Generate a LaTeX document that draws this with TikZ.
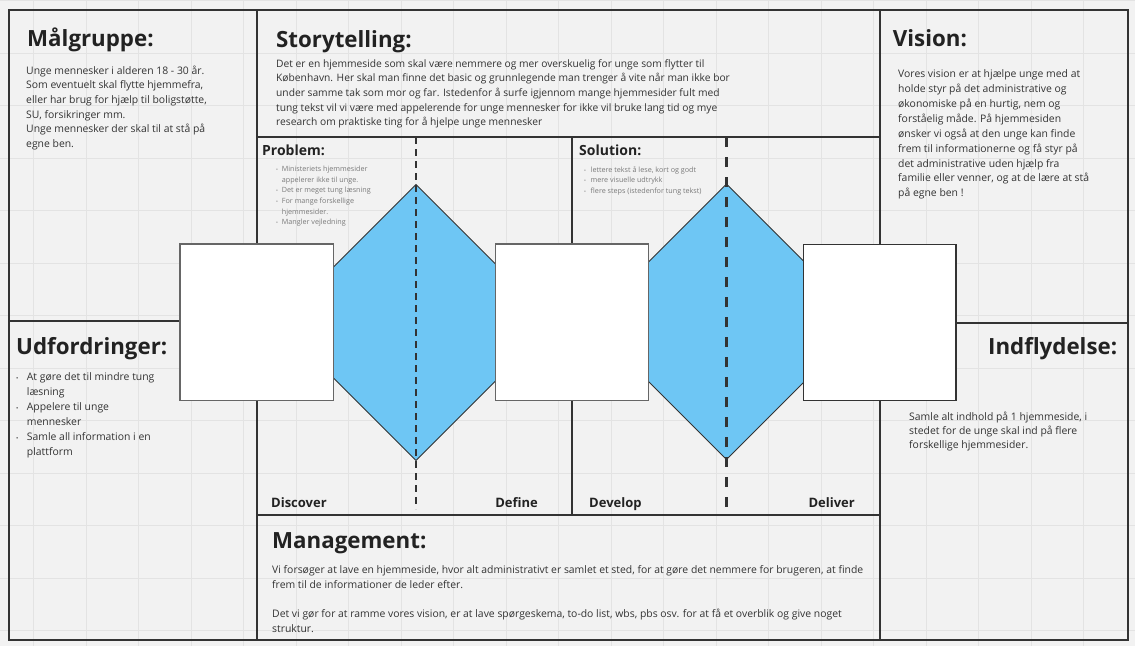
\documentclass[tikz,border=0pt]{standalone}
\usepackage{fontspec}
\setmainfont{Open Sans}

\definecolor{canvas}{HTML}{F2F2F2}
\definecolor{gridline}{HTML}{E3E3E3}
\definecolor{frame}{HTML}{333333}
\definecolor{hexblue}{HTML}{6EC6F4}
\definecolor{ink}{HTML}{222222}
\definecolor{bodyink}{HTML}{333333}
\definecolor{softink}{HTML}{7A7A7A}

% bullet of a given size in a box of a given width
\newcommand{\dotmark}[2]{\makebox[#2][l]{\fontsize{#1}{#1}\selectfont •}}

\tikzset{
  panel/.style={draw=frame, line width=2pt},
  hexa/.style={fill=hexblue, draw=frame, line width=0.9pt, line join=miter},
  card/.style={fill=white, draw=black!60, line width=1.3pt},
  finedash/.style={draw=frame, line width=1.5pt, dash pattern=on 7pt off 5pt},
  widedash/.style={draw=frame, line width=2.4pt, dash pattern=on 10pt off 10pt},
  heading/.style={font=\bfseries\fontsize{22.3}{26}\selectfont, text=ink, inner sep=0pt, anchor=base west},
  subheading/.style={font=\bfseries\fontsize{14}{17}\selectfont, text=ink, inner sep=0pt, anchor=base west},
  phase/.style={font=\bfseries\fontsize{13}{15}\selectfont, text=ink, inner sep=0pt},
  bodytext/.style={font=\fontsize{10.4}{14.6}\selectfont, text=bodyink, align=left, inner sep=0pt, anchor=north west},
  smalltext/.style={font=\fontsize{7.2}{10.6}\selectfont, text=softink, align=left, inner sep=0pt, anchor=north west},
}

\begin{document}
\begin{tikzpicture}[x=1pt,y=-1pt]
\useasboundingbox (0,0) rectangle (1135,646);

% canvas and faint grid
\fill[canvas] (0,0) rectangle (1135,646);
\foreach \gx in {33.5,86,...,1135} \draw[gridline, line width=0.8pt] (\gx,0) -- (\gx,646);
\foreach \gy in {0.5,53,...,646} \draw[gridline, line width=0.8pt] (0,\gy) -- (1135,\gy);

% panels of the canvas
\draw[panel] (9,10) rectangle (257,321);      % target group
\draw[panel] (9,321) rectangle (257,640);     % challenges
\draw[panel] (257,10) rectangle (880,137);    % storytelling
\draw[panel] (257,137) rectangle (572,515);   % problem
\draw[panel] (572,137) rectangle (880,515);   % solution
\draw[panel] (257,515) rectangle (880,640);   % management
\draw[panel] (880,10) rectangle (1128,323);   % vision
\draw[panel] (880,323) rectangle (1128,640);  % influence

% double diamond
\draw[hexa] (416,184.5) -- (500,268.5) -- (500,376.5) -- (416,460.5) -- (330,374.5) -- (330,270.5) -- cycle;
\draw[hexa] (726.5,184) -- (807,264.5) -- (807,379) -- (726.5,459.5) -- (645,378) -- (645,265.5) -- cycle;

\coordinate (cutA) at (416,137);
\coordinate (endA) at (416,509);
\coordinate (cutB) at (726.5,137);
\coordinate (endB) at (726.5,510);
\draw[finedash] (cutA) -- (endA);
\draw[widedash] (cutB) -- (endB);

% white cards
\draw[card] (180,244) rectangle (333.7,400.7);
\draw[card] (495.3,244) rectangle (648.7,400.7);
\draw[card, draw=black!80] (803.3,244.3) rectangle (956,400.3);

% headings
\node[heading] (malgruppe) at (27,46.7) {Målgruppe:};
\node[heading] (story) at (276,47) {Storytelling:};
\node[heading] (vision) at (892.7,46) {Vision:};
\node[heading] (udf) at (16,354.3) {Udfordringer:};
\node[heading, anchor=base east] (indfl) at (1117.3,354.3) {Indflydelse:};
\node[heading] (mgmt) at (272,548) {Management:};
\node[subheading] (problem) at (262,155) {Problem:};
\node[subheading] (solution) at (579,155) {Solution:};

% phase labels
\node[phase, anchor=base west] (discover) at (271,507) {Discover};
\node[phase, anchor=base east] (define) at (538,507) {Define};
\node[phase, anchor=base west] (develop) at (589,507) {Develop};
\node[phase, anchor=base east] (deliver) at (855,507) {Deliver};

% body texts
\node[bodytext] (malgruppetxt) at (26,65.6) {Unge mennesker i alderen 18 - 30 år.\\
Som eventuelt skal flytte hjemmefra,\\
eller har brug for hjælp til boligstøtte,\\
SU, forsikringer mm.\\
Unge mennesker der skal til at stå på\\
egne ben.};

\node[bodytext, font=\fontsize{10.25}{14.6}\selectfont] (storytxt) at (276,59.3) {Det er en hjemmeside som skal være nemmere og mer overskuelig for unge som flytter til\\
København. Her skal man finne det basic og grunnlegende man trenger å vite når man ikke bor\\
under samme tak som mor og far. Istedenfor å surfe igjennom mange hjemmesider fult med\\
tung tekst vil vi være med appelerende for unge mennesker for ikke vil bruke lang tid og mye\\
research om praktiske ting for å hjelpe unge mennesker};

\node[bodytext, font=\fontsize{10.4}{14.95}\selectfont] (visiontxt) at (898,69.2) {Vores vision er at hjælpe unge med at\\
holde styr på det administrative og\\
økonomiske på en hurtig, nem og\\
forståelig måde. På hjemmesiden\\
ønsker vi også at den unge kan finde\\
frem til informationerne og få styr på\\
det administrative uden hjælp fra\\
familie eller venner, og at de lære at stå\\
på egne ben !};

\node[bodytext, font=\fontsize{10.4}{15}\selectfont] (udftxt) at (16,372.5) {\dotmark{6}{10.7pt}At gøre det til mindre tung\\
\hspace*{10.7pt}læsning\\
\dotmark{6}{10.7pt}Appelere til unge\\
\hspace*{10.7pt}mennesker\\
\dotmark{6}{10.7pt}Samle all information i en\\
\hspace*{10.7pt}plattform};

\node[bodytext, font=\fontsize{10.4}{14.3}\selectfont] (indfltxt) at (909,411.6) {Samle alt indhold på 1 hjemmeside, i\\
stedet for de unge skal ind på flere\\
forskellige hjemmesider.};

\node[bodytext, font=\fontsize{10.4}{14.9}\selectfont] (mgmttxt) at (272,565) {Vi forsøger at lave en hjemmeside, hvor alt administrativt er samlet et sted, for at gøre det nemmere for brugeren, at finde\\
frem til de informationer de leder efter.\\[14.9pt]
Det vi gør for at ramme vores vision, er at lave spørgeskema, to-do list, wbs, pbs osv. for at få et overblik og give noget\\
struktur.};

\node[smalltext] (problemtxt) at (276,166) {\dotmark{5}{5.7pt}Ministeriets hjemmesider\\
\hspace*{5.7pt}appelerer ikke til unge.\\
\dotmark{5}{5.7pt}Det er meget tung læsning\\
\dotmark{5}{5.7pt}For mange forskellige\\
\hspace*{5.7pt}hjemmesider.\\
\dotmark{5}{5.7pt}Mangler vejledning};

\node[smalltext] (solutiontxt) at (584,166) {\dotmark{5}{6.5pt}lettere tekst å lese, kort og godt\\
\dotmark{5}{6.5pt}mere visuelle udtrykk\\
\dotmark{5}{6.5pt}flere steps (istedenfor tung tekst)};

\end{tikzpicture}
\end{document}
